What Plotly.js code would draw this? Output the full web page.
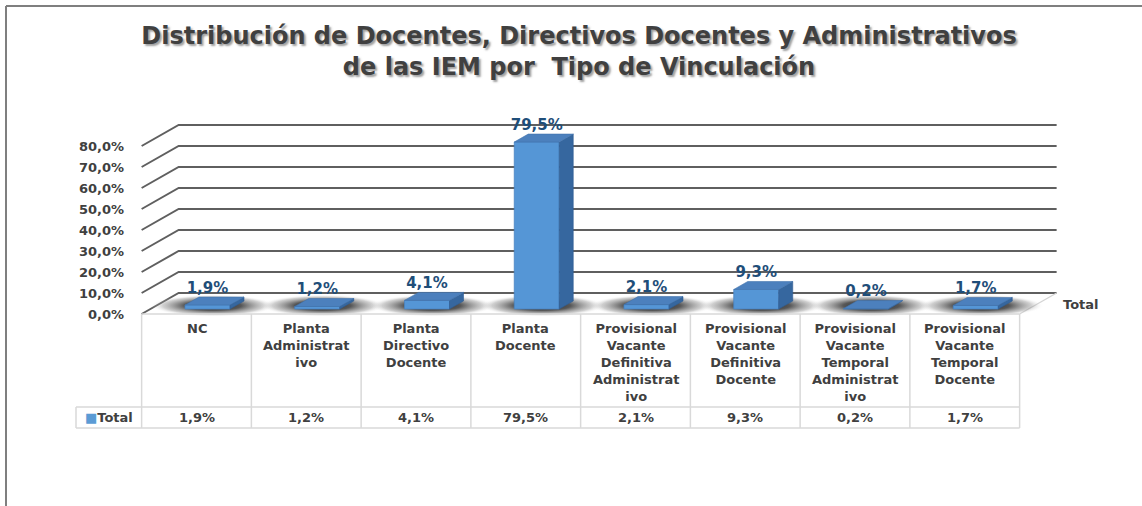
<!DOCTYPE html>
<html>
<head>
<meta charset="utf-8">
<script src="https://cdn.plot.ly/plotly-3.0.1.min.js"></script>
<style>html,body{margin:0;padding:0;background:#fff;}#chart{width:1142px;height:506px;}</style>
</head>
<body>
<div id="chart"></div>
<script>
// ---------- data ----------
const categories = ['NC', 'Planta Administrativo', 'Planta Directivo Docente', 'Planta Docente',
  'Provisional Vacante Definitiva Administrativo', 'Provisional Vacante Definitiva Docente',
  'Provisional Vacante Temporal Administrativo', 'Provisional Vacante Temporal Docente'];
const tickLabels = ['NC', 'Planta<br>Administrat<br>ivo', 'Planta<br>Directivo<br>Docente', 'Planta<br>Docente',
  'Provisional<br>Vacante<br>Definitiva<br>Administrat<br>ivo', 'Provisional<br>Vacante<br>Definitiva<br>Docente',
  'Provisional<br>Vacante<br>Temporal<br>Administrat<br>ivo', 'Provisional<br>Vacante<br>Temporal<br>Docente'];
const values = [1.9, 1.2, 4.1, 79.5, 2.1, 9.3, 0.2, 1.7];
const seriesName = 'Total';
const yTicks = [0, 10, 20, 30, 40, 50, 60, 70, 80];
const yTickText = ['0,0%', '10,0%', '20,0%', '30,0%', '40,0%', '50,0%', '60,0%', '70,0%', '80,0%'];
const titleText = 'Distribución de Docentes, Directivos Docentes y Administrativos<br>de las IEM por  Tipo de Vinculación';

// ---------- geometry (pixel scale of the axes) ----------
const W = 1142, H = 506;
const PX = 109.75, PY = 2.1;      // px per category, px per percent
const OX = 196.5, OY = 314;       // pixel of category 0 / 0% on the front plane
const xRange = [-OX / PX, (W - OX) / PX];
const yRange = [(OY - H) / PY, OY / PY];
const BDX = 37 / PX, BDY = 21 / PY;   // back wall offset
const BSX = 11 / PX, BB = 5 / PY;     // bar front-face offset
const BW = 45 / PX;                   // bar width
const DDX = 14 / PX, DDY = 8 / PY;    // bar depth
const HDR_BOT = (OY - 407) / PY, TBL_BOT = (OY - 428) / PY;
const ROW_LEFT = (76 - OX) / PX;
const n = categories.length;
const fmt = v => v.toFixed(1).replace('.', ',') + '%';

const traces = [];
// back wall gridlines + left diagonals
const gx = [], gy = [];
yTicks.forEach(t => {
  gx.push(-0.5, -0.5 + BDX, n - 0.5 + BDX, null);
  gy.push(t, t + BDY, t + BDY, null);
});
traces.push({type: 'scatter', mode: 'lines', x: gx, y: gy, line: {color: '#5f5f5f', width: 2}, hoverinfo: 'skip', showlegend: false});
// right floor edge
traces.push({type: 'scatter', mode: 'lines', x: [n - 0.5, n - 0.5 + BDX], y: [0, BDY], line: {color: '#d4d4d4', width: 1.3}, hoverinfo: 'skip', showlegend: false});
// floor shadows
values.forEach((v, i) => {
  const cx = i + BSX;
  traces.push({type: 'scatter', mode: 'lines', x: [cx - 0.52, cx + 0.62, cx + 0.62, cx - 0.52, cx - 0.52],
    y: [-1.2, -1.2, BB + DDY + 3, BB + DDY + 3, -1.2], fill: 'toself', line: {width: 0},
    fillgradient: {type: 'radial', colorscale: [[0, 'rgba(20,20,20,0.95)'], [0.45, 'rgba(45,45,45,0.8)'], [0.8, 'rgba(120,120,120,0.35)'], [1, 'rgba(255,255,255,0)']]},
    hoverinfo: 'skip', showlegend: false});
});
// data table lines
const tx = [], ty = [];
for (let i = 0; i <= n; i++) { tx.push(i - 0.5, i - 0.5, null); ty.push(0, TBL_BOT, null); }
tx.push(-0.5, n - 0.5, null, ROW_LEFT, n - 0.5, null, ROW_LEFT, n - 0.5, null, ROW_LEFT, ROW_LEFT, null);
ty.push(0, 0, null, HDR_BOT, HDR_BOT, null, TBL_BOT, TBL_BOT, null, HDR_BOT, TBL_BOT, null);
traces.push({type: 'scatter', mode: 'lines', x: tx, y: ty, line: {color: '#d9d9d9', width: 1.5}, hoverinfo: 'skip', showlegend: false});

// ---------- bars (overlay axes so they sit above the grid) ----------
traces.push({type: 'bar', name: seriesName, x: values.map((v, i) => i + BSX), y: values, base: BB, width: BW,
  xaxis: 'x2', yaxis: 'y2', marker: {color: '#5596d6', line: {color: '#4a84c2', width: 0.8}},
  hoverinfo: 'skip', showlegend: false});
values.forEach((v, i) => {
  const xl = i + BSX - BW / 2, xr = i + BSX + BW / 2, top = BB + v;
  traces.push({type: 'scatter', mode: 'lines', xaxis: 'x2', yaxis: 'y2',
    x: [xr, xr + DDX, xr + DDX, xr, xr], y: [BB, BB + DDY, top + DDY, top, BB],
    fill: 'toself', fillcolor: '#36679f', line: {color: '#2f5d92', width: 0.6}, hoverinfo: 'skip', showlegend: false});
  traces.push({type: 'scatter', mode: 'lines', xaxis: 'x2', yaxis: 'y2',
    x: [xl, xr, xr + DDX, xl + DDX, xl], y: [top, top, top + DDY, top + DDY, top],
    fill: 'toself', fillcolor: '#4c80bd', line: {color: '#4172ab', width: 0.6}, hoverinfo: 'skip', showlegend: false});
});
traces.push({type: 'scatter', mode: 'text', xaxis: 'x2', yaxis: 'y2',
  x: values.map((v, i) => i + BSX), y: values.map(v => BB + v + DDY + 8 / PY),
  text: values.map(fmt), textposition: 'middle center',
  textfont: {family: 'DejaVu Sans', size: 15, color: '#1f4e79', weight: 700},
  hoverinfo: 'skip', showlegend: false});

// ---------- text annotations (table) ----------
const tfont = {family: 'DejaVu Sans', size: 13, color: '#404040', weight: 700};
const annotations = [];
tickLabels.forEach((t, i) => annotations.push({x: i, y: -2.4, xref: 'x', yref: 'y', text: t, showarrow: false,
  xanchor: 'center', yanchor: 'top', align: 'center', font: tfont}));
values.forEach((v, i) => annotations.push({x: i, y: (HDR_BOT + TBL_BOT) / 2, xref: 'x', yref: 'y', text: fmt(v),
  showarrow: false, xanchor: 'center', yanchor: 'middle', font: tfont}));
annotations.push({x: (ROW_LEFT - 0.5) / 2, y: (HDR_BOT + TBL_BOT) / 2, xref: 'x', yref: 'y',
  text: '<span style="color:#5b9bd5">■</span>' + seriesName, showarrow: false, xanchor: 'center', yanchor: 'middle', font: tfont});
annotations.push({x: n - 0.5 + BDX + 4 / PX, y: (OY - 304) / PY, xref: 'x', yref: 'y', text: seriesName,
  showarrow: false, xanchor: 'left', yanchor: 'middle', font: tfont});

const layout = {
  width: W, height: H, autosize: false,
  margin: {l: 0, r: 0, t: 0, b: 0, pad: 0},
  paper_bgcolor: '#ffffff', plot_bgcolor: 'rgba(0,0,0,0)',
  separators: ',.',
  showlegend: false, hovermode: false,
  title: {text: titleText, x: 579 / W, xanchor: 'center', xref: 'paper', y: 1 - 44 / H, yanchor: 'middle', yref: 'container',
    font: {family: 'DejaVu Sans', size: 24, color: '#404040', weight: 700, shadow: '2px 2px 2px rgba(120,120,120,0.7)'}},
  xaxis: {range: xRange, domain: [0, 1], showgrid: false, zeroline: false, showticklabels: false, showline: false, ticks: '', fixedrange: true},
  yaxis: {range: yRange, domain: [0, 1], anchor: 'free', position: 124 / W, showgrid: false, zeroline: false, showline: false,
    ticks: '', tickmode: 'array', tickvals: yTicks, ticktext: yTickText, tickfont: {family: 'DejaVu Sans', size: 13, color: '#404040', weight: 700},
    fixedrange: true},
  xaxis2: {range: xRange, overlaying: 'x', anchor: 'y2', visible: false, fixedrange: true},
  yaxis2: {range: yRange, overlaying: 'y', anchor: 'x2', visible: false, fixedrange: true},
  annotations: annotations,
  shapes: [
    {type: 'line', xref: 'paper', yref: 'paper', x0: 6 / W, x1: 6 / W, y0: 0, y1: 1 - 6 / H, line: {color: '#7f7f7f', width: 2}},
    {type: 'line', xref: 'paper', yref: 'paper', x0: 6 / W, x1: 1, y0: 1 - 6 / H, y1: 1 - 6 / H, line: {color: '#7f7f7f', width: 2}}
  ]
};
Plotly.newPlot('chart', traces, layout, {displayModeBar: false, staticPlot: true});
</script>
</body>
</html>
